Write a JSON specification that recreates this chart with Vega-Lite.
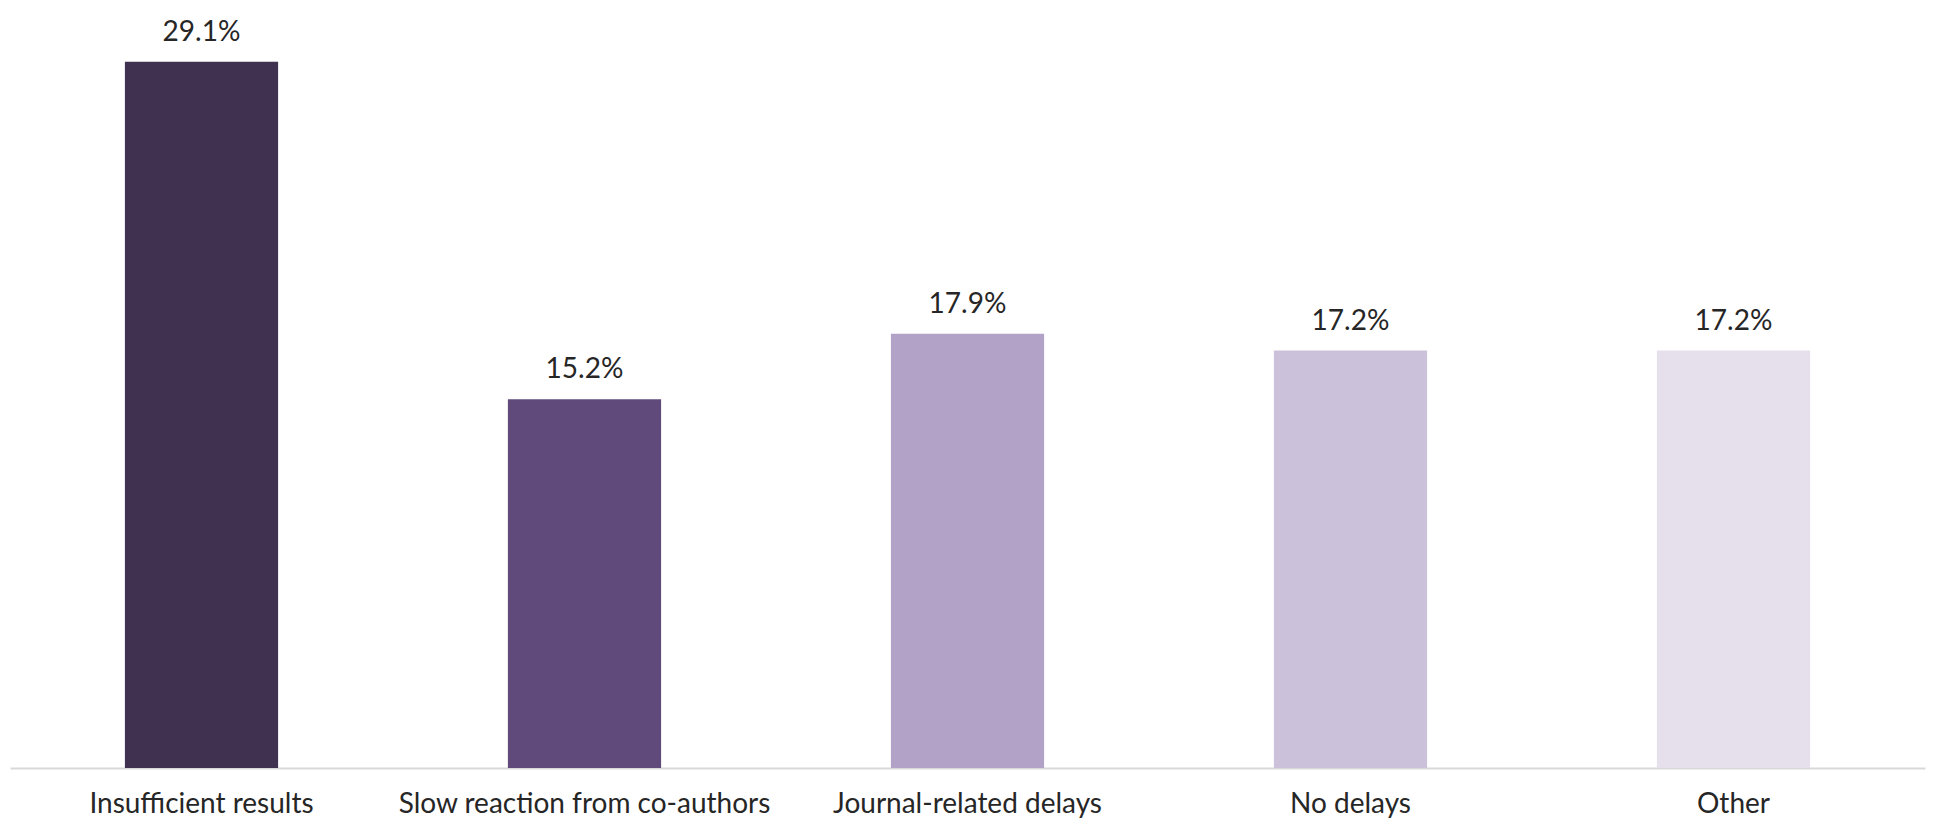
{
  "$schema": "https://vega.github.io/schema/vega-lite/v6.json",
  "width": 1915,
  "height": 728,
  "autosize": {"type": "none"},
  "padding": {"left": 10, "top": 40, "right": 17, "bottom": 58},
  "background": "white",
  "config": {"view": {"stroke": null}, "font": "Lato"},
  "data": {
    "values": [
      {"category": "Insufficient results", "value": 0.291, "color": "#403151"},
      {"category": "Slow reaction from co-authors", "value": 0.152, "color": "#604A7B"},
      {"category": "Journal-related delays", "value": 0.179, "color": "#B2A2C7"},
      {"category": "No delays", "value": 0.172, "color": "#CCC1DA"},
      {"category": "Other", "value": 0.172, "color": "#E5E0EC"}
    ]
  },
  "encoding": {
    "x": {
      "field": "category",
      "type": "nominal",
      "sort": null,
      "scale": {"paddingInner": 0.6, "paddingOuter": 0.3},
      "axis": {
        "title": null,
        "labelAngle": 0,
        "ticks": false,
        "domainColor": "#D9D9D9",
        "domainWidth": 2,
        "labelFontSize": 28,
        "labelFontWeight": "normal",
        "labelColor": "#262626",
        "labelPadding": 22,
        "labelLimit": 0,
        "labelFont": "Lato"
      }
    },
    "y": {
      "field": "value",
      "type": "quantitative",
      "scale": {"domain": [0, 0.3], "nice": false},
      "axis": null
    }
  },
  "layer": [
    {
      "mark": {"type": "bar"},
      "encoding": {
        "color": {"field": "color", "type": "nominal", "scale": null}
      }
    },
    {
      "mark": {"type": "text", "baseline": "middle", "dy": -29, "fontSize": 28, "fontWeight": "normal", "color": "#262626", "font": "Lato"},
      "encoding": {
        "text": {"field": "value", "type": "quantitative", "format": ".1%"}
      }
    }
  ]
}
